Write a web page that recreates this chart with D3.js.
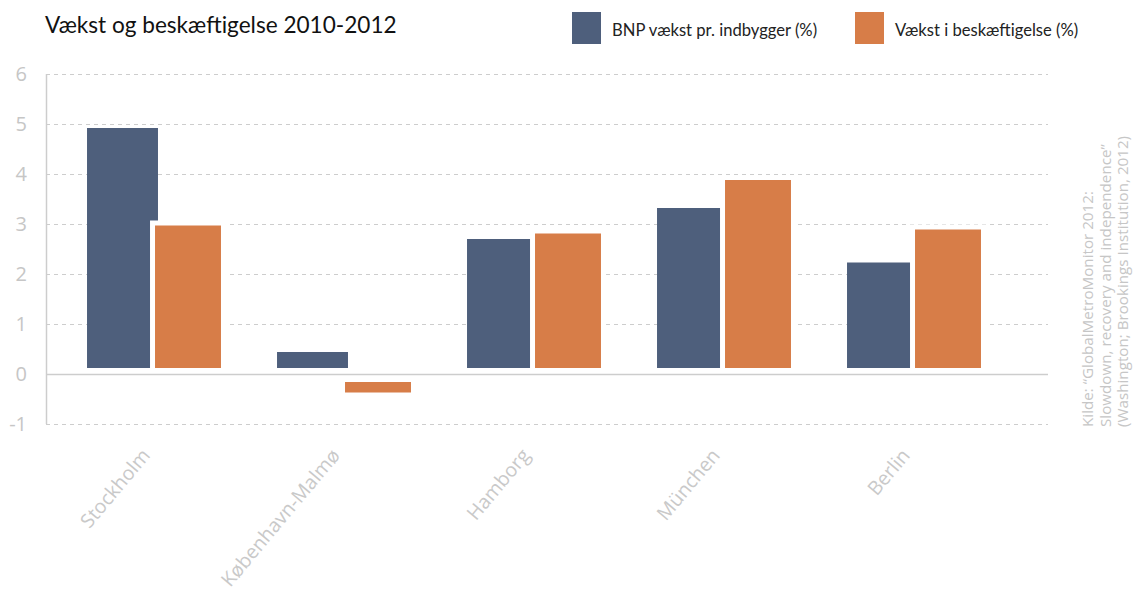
<!DOCTYPE html>
<html>
<head>
<meta charset="utf-8">
<script src="https://cdn.jsdelivr.net/npm/d3@7"></script>
<style>
  body { margin: 0; background: #fff; }
  svg { display: block; }
</style>
</head>
<body>
<div id="graph"></div>
<script>
// Data
var cities = ["Stockholm", "København-Malmø", "Hamborg", "München", "Berlin"];
var series = ["bnp", "besk"];
var seriesNames = ["BNP vækst pr. indbygger (%)", "Vækst i beskæftigelse (%)"];
var bnp = [4.92, 0.44, 2.70, 3.32, 2.23];
var besk = [2.97, -0.37, 2.81, 3.88, 2.89];
var yTicks = [-1, 0, 1, 2, 3, 4, 5, 6];
var sourceLines = [
  "Kilde: \u201cGlobalMetroMonitor 2012:",
  "Slowdown, recovery and independence\u201d",
  "(Washington; Brookings Institution, 2012)"
];

var WIDTH = 1135, HEIGHT = 597;
var COLORS = {bnp: "#4e5f7c", besk: "#d77d48"};
var GRID = "#cdcdcd";
var TEXT_LIGHT = "#c6c6c6";
// bars in the original float a little off the zero line
var POS_BASE = 0.12, NEG_BASE = -0.16;
var HALO = 5;      // white border round the orange bars
var OVERLAP = 5;   // blue bars slide under the orange halo

var svg = d3.select("#graph")
  .append("svg")
    .attr("width", WIDTH)
    .attr("height", HEIGHT);

let yscale = d3.scaleLinear()
  .domain([-1, 6])
  .range([424, 74]);

let xscale = d3.scaleBand()
  .domain(cities)
  .range([59, 1009])
  .paddingInner(0.295)
  .paddingOuter(0.1475);

let inner = d3.scaleBand()
  .domain(series)
  .range([0, xscale.bandwidth()])
  .paddingInner(0.03);

// Title
svg.append("text")
  .attr("x", 45).attr("y", 33)
  .attr("font-family", "Lato, 'Open Sans', sans-serif")
  .attr("font-size", 22.6)
  .attr("fill", "#111")
  .text("Vækst og beskæftigelse 2010-2012");

// Legend
var legendX = [572, 855];
seriesNames.forEach(function(name, i) {
  let g = svg.append("g").attr("transform", "translate(" + legendX[i] + ",12)");
  g.append("rect")
    .attr("width", 29).attr("height", 32)
    .attr("fill", COLORS[series[i]]);
  g.append("text")
    .attr("x", 40).attr("y", 24)
    .attr("font-family", "Lato, 'Open Sans', sans-serif")
    .attr("font-size", 16.6)
    .attr("fill", "#222")
    .text(name);
});

// Gridlines
svg.append("g")
  .selectAll("line")
  .data(yTicks.filter(function(d) { return d !== 0; }))
  .enter()
  .append("line")
    .attr("x1", 46).attr("x2", 1048)
    .attr("y1", function(d) { return yscale(d) + 0.5; })
    .attr("y2", function(d) { return yscale(d) + 0.5; })
    .attr("stroke", GRID)
    .attr("stroke-width", 1)
    .attr("stroke-dasharray", "4,4");

// Y axis labels
let y_axis = d3.axisLeft(yscale)
  .tickValues(yTicks)
  .tickSize(0)
  .tickPadding(0)
  .tickFormat(function(d) { return String(d); });

let yAxisEl = svg.append("g")
  .attr("transform", "translate(27,0)")
  .call(y_axis);
yAxisEl.select(".domain").remove();
yAxisEl.selectAll("text")
  .attr("font-family", "'Open Sans', sans-serif")
  .attr("font-size", 20)
  .attr("fill", TEXT_LIGHT);

function barTop(v) { return v >= 0 ? yscale(v) : yscale(NEG_BASE); }
function barBottom(v) { return v >= 0 ? yscale(POS_BASE) : yscale(v); }

// Blue bars
svg.append("g")
  .selectAll("rect")
  .data(bnp)
  .enter()
  .append("rect")
    .attr("x", function(d, i) { return xscale(cities[i]) + inner("bnp"); })
    .attr("y", function(d) { return barTop(d); })
    .attr("width", inner.bandwidth() + OVERLAP)
    .attr("height", function(d) { return barBottom(d) - barTop(d); })
    .attr("fill", COLORS.bnp);

// Halo behind orange bars
svg.append("g")
  .selectAll("rect")
  .data(besk)
  .enter()
  .append("rect")
    .attr("x", function(d, i) { return xscale(cities[i]) + inner("besk") - HALO; })
    .attr("y", function(d) { return barTop(d) - HALO; })
    .attr("width", inner.bandwidth() + 2 * HALO)
    .attr("height", function(d) { return barBottom(d) - barTop(d) + 2 * HALO; })
    .attr("fill", "#fff");

// Orange bars
svg.append("g")
  .selectAll("rect")
  .data(besk)
  .enter()
  .append("rect")
    .attr("x", function(d, i) { return xscale(cities[i]) + inner("besk"); })
    .attr("y", function(d) { return barTop(d); })
    .attr("width", inner.bandwidth())
    .attr("height", function(d) { return barBottom(d) - barTop(d); })
    .attr("fill", COLORS.besk);

// Zero line and vertical axis line
svg.append("line")
  .attr("x1", 46).attr("x2", 1048)
  .attr("y1", yscale(0) + 0.5).attr("y2", yscale(0) + 0.5)
  .attr("stroke", GRID).attr("stroke-width", 1.5);
svg.append("line")
  .attr("x1", 46.5).attr("x2", 46.5)
  .attr("y1", yscale(6)).attr("y2", yscale(-1))
  .attr("stroke", GRID).attr("stroke-width", 1.5);

// Category labels, rotated
svg.append("g")
  .selectAll("text")
  .data(cities)
  .enter()
  .append("text")
    .attr("transform", function(d) {
      let cx = xscale(d) + xscale.bandwidth() / 2 - 3;
      return "translate(" + cx + ",456) rotate(-50)";
    })
    .attr("text-anchor", "end")
    .attr("font-family", "'Open Sans', sans-serif")
    .attr("font-size", 19.5)
    .attr("fill", "#c9c9c9")
    .text(function(d) { return d; });

// Source note, rotated
svg.append("g")
  .selectAll("text")
  .data(sourceLines)
  .enter()
  .append("text")
    .attr("transform", function(d, i) {
      return "translate(" + (1093 + i * 17.5) + ",427) rotate(-90)";
    })
    .attr("font-family", "'Open Sans', sans-serif")
    .attr("font-size", 15.2)
    .attr("fill", TEXT_LIGHT)
    .text(function(d) { return d; });
</script>
</body>
</html>
